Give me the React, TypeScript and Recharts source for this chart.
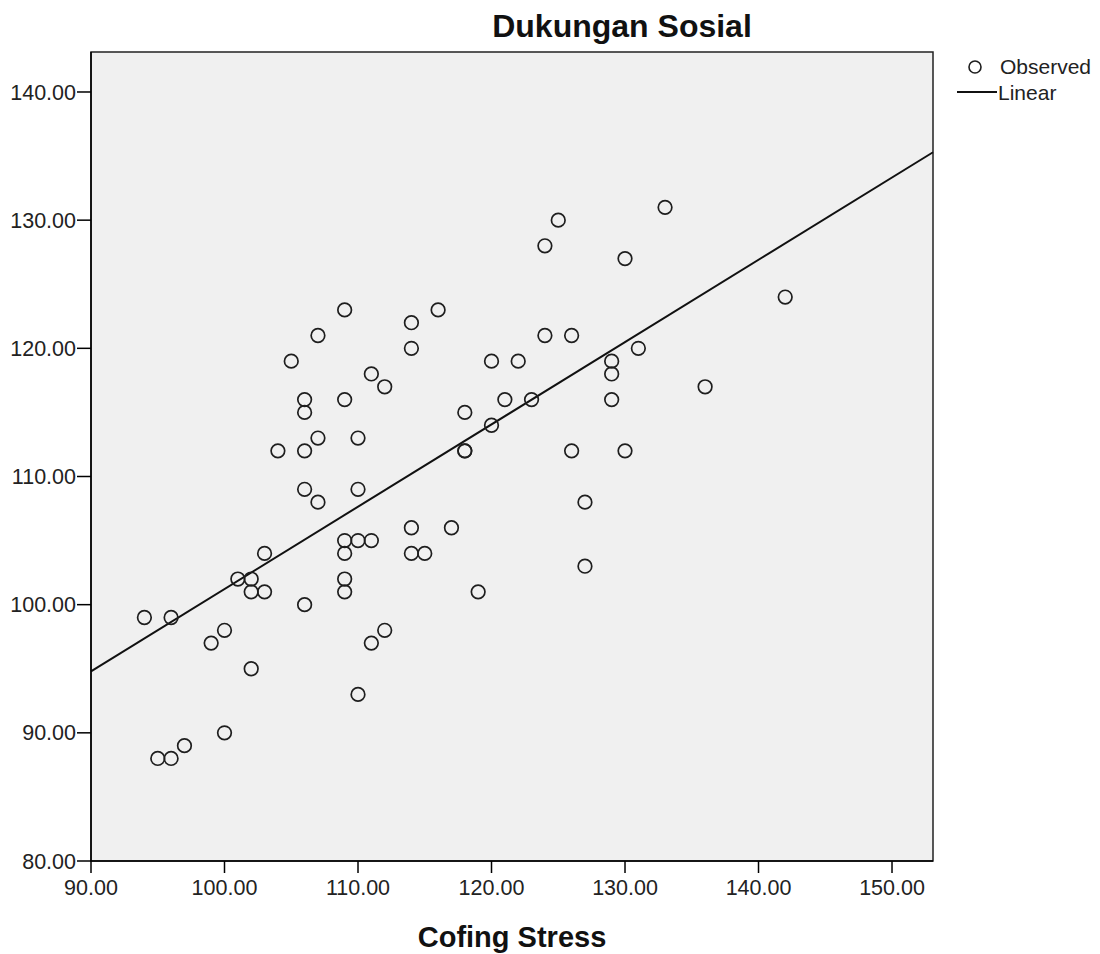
import { ScatterChart, Scatter, XAxis, YAxis, CartesianGrid, ReferenceArea, ReferenceLine } from "recharts";

// Cofing Stress (x) vs Dukungan Sosial (y), one entry per respondent
const stressValues = [
  94, 95, 96, 96, 97, 99, 100, 100, 101, 102, 102, 102, 103, 103, 104, 105, 106, 106, 106, 106, 106,
  107, 107, 107, 109, 109, 109, 109, 109, 109, 110, 110, 110, 110, 111, 111, 111, 112, 112, 114, 114,
  114, 114, 115, 116, 117, 118, 118, 118, 119, 120, 120, 121, 122, 123, 124, 124, 125, 126, 126, 127,
  127, 129, 129, 129, 130, 130, 131, 133, 136, 142,
];
const supportValues = [
  99, 88, 99, 88, 89, 97, 98, 90, 102, 102, 101, 95, 101, 104, 112, 119, 116, 115, 112, 109, 100,
  121, 113, 108, 123, 116, 105, 104, 102, 101, 113, 109, 105, 93, 118, 105, 97, 117, 98, 122, 120,
  106, 104, 104, 123, 106, 115, 112, 112, 101, 119, 114, 116, 119, 116, 128, 121, 130, 121, 112, 108,
  103, 119, 118, 116, 127, 112, 120, 131, 117, 124,
];

// linear fit, read at the plot edges
const fitX = [90, 153.07];
const fitY = [94.8, 135.3];

const xTicks = [90, 100, 110, 120, 130, 140, 150];
const yTicks = [80, 90, 100, 110, 120, 130, 140];
const xDomain = [90, 153.07];
const yDomain = [80, 143.12];

const observed = stressValues.map((x, i) => ({ x, y: supportValues[i] }));

const FONT = '"Liberation Sans", Arial, sans-serif';

const HollowDot = (props: any) => {
  const { cx, cy } = props;
  if (cx == null || cy == null) return <g />;
  return <circle cx={cx} cy={cy} r={6.8} fill="none" stroke="#1e1e1e" strokeWidth={1.7} />;
};

export default function App() {
  return (
    <div style={{ position: "relative", width: 1092, height: 946, fontFamily: FONT }}>
      <ScatterChart width={1092} height={946} margin={{ top: 44, right: 167, bottom: 0, left: 0 }}>
        <CartesianGrid horizontal={false} vertical={false} fill="#f0f0f0" />
        <ReferenceArea
          x1={xDomain[0]}
          x2={xDomain[1]}
          y1={yDomain[0]}
          y2={yDomain[1]}
          fill="none"
          stroke="#222"
          strokeWidth={1.5}
        />
        <XAxis
          type="number"
          dataKey="x"
          domain={xDomain}
          ticks={xTicks}
          allowDataOverflow
          tickFormatter={(v: number) => v.toFixed(2)}
          tickSize={12}
          tickMargin={7}
          height={93}
          stroke="#000"
          axisLine={{ stroke: "#000", strokeWidth: 1.5 }}
          tickLine={{ stroke: "#000", strokeWidth: 1.5 }}
          tick={{ fontSize: 21.5, fill: "#222", fontFamily: FONT }}
          label={{
            value: "Cofing Stress",
            position: "insideBottom",
            offset: 7,
            style: { fontSize: 29, fontWeight: "bold", fill: "#111", fontFamily: FONT },
          }}
        />
        <YAxis
          type="number"
          dataKey="y"
          domain={yDomain}
          ticks={yTicks}
          allowDataOverflow
          tickFormatter={(v: number) => v.toFixed(2)}
          tickSize={14}
          tickMargin={1}
          width={83}
          stroke="#000"
          axisLine={{ stroke: "#000", strokeWidth: 1.5 }}
          tickLine={{ stroke: "#000", strokeWidth: 1.5 }}
          tick={{ fontSize: 21.5, fill: "#222", fontFamily: FONT }}
        />
        <ReferenceLine
          segment={[
            { x: fitX[0], y: fitY[0] },
            { x: fitX[1], y: fitY[1] },
          ]}
          stroke="#111"
          strokeWidth={2}
        />
        <Scatter data={observed} shape={HollowDot} isAnimationActive={false} />
      </ScatterChart>
      <svg
        width={1092}
        height={946}
        style={{ position: "absolute", left: 0, top: 0, pointerEvents: "none" }}
      >
        <text x={614} y={29} textAnchor="middle" fontSize={32} fontWeight="bold" fill="#111" fontFamily={FONT}>
          Dukungan Sosial
        </text>
        <circle cx={967} cy={59} r={6} fill="none" stroke="#1e1e1e" strokeWidth={1.6} />
        <text x={992} y={66} fontSize={21} fill="#222" fontFamily={FONT}>
          Observed
        </text>
        <line x1={949} x2={989} y1={84} y2={84} stroke="#111" strokeWidth={2} />
        <text x={990} y={92} fontSize={21} fill="#222" fontFamily={FONT}>
          Linear
        </text>
      </svg>
    </div>
  );
}
